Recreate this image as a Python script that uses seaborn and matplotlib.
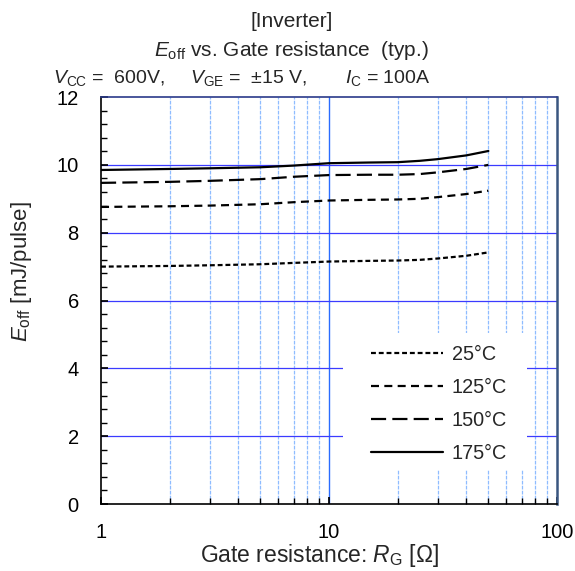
import numpy as np
import pandas as pd
import matplotlib
matplotlib.use("Agg")
import matplotlib.pyplot as plt
import seaborn as sns
from matplotlib.patches import Rectangle
from matplotlib.lines import Line2D
from matplotlib.ticker import FixedLocator, FixedFormatter, NullFormatter, MultipleLocator

# ---- data ----
rg = [1, 2, 3, 5, 7, 10, 15, 20, 25, 30, 40, 50]
e_25 = [7.00, 7.02, 7.04, 7.07, 7.11, 7.15, 7.17, 7.18, 7.20, 7.24, 7.32, 7.42]
e_125 = [8.76, 8.78, 8.80, 8.84, 8.90, 8.95, 8.97, 8.98, 9.00, 9.05, 9.14, 9.24]
e_150 = [9.47, 9.50, 9.53, 9.58, 9.65, 9.70, 9.71, 9.71, 9.73, 9.78, 9.88, 10.0]
e_175 = [9.85, 9.88, 9.90, 9.93, 9.98, 10.05, 10.07, 10.08, 10.12, 10.17, 10.28, 10.41]
temps = ["25°C", "125°C", "150°C", "175°C"]
x_ticks = [1, 10, 100]
x_ticklabels = ["1", "10", "100"]

df = pd.concat([
    pd.DataFrame({"Rg": rg, "Eoff": e, "T": t})
    for e, t in zip([e_25, e_125, e_150, e_175], temps)
])

sns.set_theme(style="white")
plt.rcParams["font.family"] = ["Liberation Sans", "DejaVu Sans"]
plt.rcParams["mathtext.fontset"] = "custom"
plt.rcParams["mathtext.rm"] = "Liberation Sans"
plt.rcParams["mathtext.it"] = "Liberation Sans:italic"

fig = plt.figure(figsize=(5.75, 5.71), dpi=100)
ax = fig.add_axes([0.1757, 0.1173, 0.793, 0.7127])

dashes = {"25°C": (2.2, 1.3), "125°C": (3.6, 2.4), "150°C": (6.8, 2.8), "175°C": ""}
sns.lineplot(data=df, x="Rg", y="Eoff", hue="T", style="T",
             palette=["black"] * 4, dashes=dashes, linewidth=1.6,
             ax=ax, legend=False, zorder=3)

ax.set_xscale("log")
ax.set_xlim(1, 100)
ax.set_ylim(0, 12)
ax.set_axisbelow(True)

# grid
minor_x = [2, 3, 4, 5, 6, 7, 8, 9, 20, 30, 40, 50, 60, 70, 80, 90]
for v in minor_x:
    ax.axvline(v, color="#8fbcff", lw=0.9, ls=(0, (3, 1)), zorder=0.5)
ax.axvline(10, color="#2a6cff", lw=1.0, zorder=0.5)
for h in [2, 4, 6, 8, 10]:
    ax.axhline(h, color="#3b3bff", lw=0.9, zorder=0.5)

# white legend background
ax.add_patch(Rectangle((0.531, 0.0835), 0.403, 0.3365, transform=ax.transAxes,
                       facecolor="white", edgecolor="none", zorder=1))

# ticks
ax.xaxis.set_major_locator(FixedLocator(x_ticks))
ax.xaxis.set_major_formatter(FixedFormatter(x_ticklabels))
ax.xaxis.set_minor_locator(FixedLocator(minor_x))
ax.xaxis.set_minor_formatter(NullFormatter())
ax.yaxis.set_major_locator(MultipleLocator(2))
ax.yaxis.set_minor_locator(MultipleLocator(0.4))
ax.tick_params(axis="both", which="both", direction="in", colors="black",
               labelsize=14.5, bottom=True, left=True, top=False, right=False)
ax.tick_params(axis="x", which="major", length=5, pad=14)
ax.tick_params(axis="x", which="minor", length=4)
ax.tick_params(axis="y", which="major", length=5, pad=16)
ax.tick_params(axis="y", which="minor", length=4)
for s in ax.spines.values():
    s.set_color("black")
    s.set_linewidth(1.2)
ax.spines["right"].set_color("#3a5680")
ax.spines["right"].set_linewidth(1.8)
ax.spines["top"].set_color("#2a3a8a")

ax.set_xlabel(r"Gate resistance: $\mathit{R}_{\mathrm{G}}$ [Ω]", fontsize=16.5)
ax.xaxis.set_label_coords(0.48, -0.093)
ax.set_ylabel(r"$\mathit{E}_{\mathrm{off}}$ [mJ/pulse]", fontsize=16)
ax.yaxis.set_label_coords(-0.148, 0.572)

# legend
handles = [Line2D([], [], color="black", lw=1.6, dashes=dashes[t]) if dashes[t] else
           Line2D([], [], color="black", lw=1.6) for t in temps]
leg = ax.legend(handles, temps, loc="upper left", bbox_to_anchor=(0.575, 0.41),
                frameon=False, fontsize=14.3, handlelength=3.6, handletextpad=0.45,
                labelspacing=0.7, borderaxespad=0)

# titles
fig.text(0.507, 0.962, "[Inverter]", ha="center", va="center", fontsize=15)
fig.text(0.507, 0.912, r"$\mathit{E}_{\mathrm{off}}$ vs. Gate resistance  (typ.)",
         ha="center", va="center", fontsize=15)
fig.text(0.092, 0.863, r"$\mathit{V}_{\mathrm{CC}}$ =  600V,", ha="left", va="center", fontsize=14)
fig.text(0.330, 0.863, r"$\mathit{V}_{\mathrm{GE}}$ =  ±15 V,", ha="left", va="center", fontsize=14)
fig.text(0.600, 0.863, r"$\mathit{I}_{\mathrm{C}}$ = 100A", ha="left", va="center", fontsize=14)

fig.savefig("out.png", dpi=100, facecolor="white")
